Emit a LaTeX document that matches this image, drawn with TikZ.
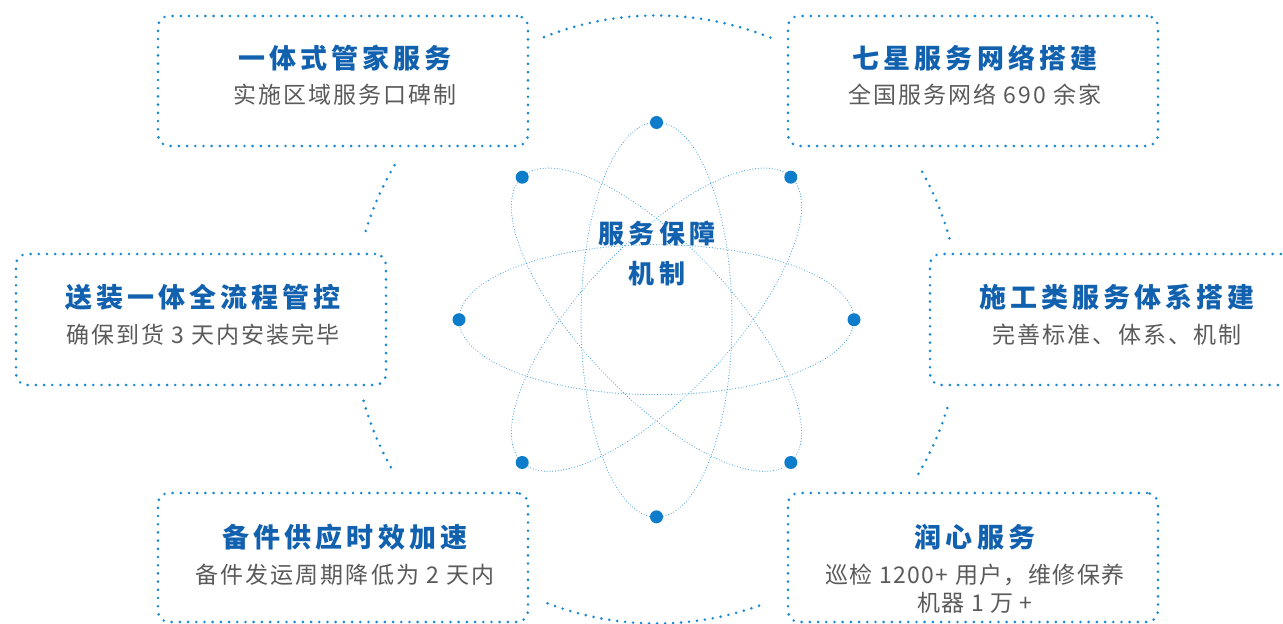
\documentclass[tikz,border=0pt]{standalone}
\usepackage{fontspec}
\newfontfamily\titlefont{Noto Sans CJK SC}[LetterSpace=15]
\newfontfamily\centerfont{Noto Sans CJK SC}[LetterSpace=16]
\newfontfamily\subfont{Noto Sans CJK SC}[LetterSpace=9]
\newfontfamily\subfonttight{Noto Sans CJK SC}[LetterSpace=6]
\definecolor{titleblue}{HTML}{1161AF}
\definecolor{dotblue}{HTML}{1688D4}
\definecolor{electronblue}{HTML}{0C7CCB}
\definecolor{orbitblue}{HTML}{3C9BDB}
\definecolor{subgray}{HTML}{5A5A5A}
\begin{document}
\begin{tikzpicture}[x=1pt,y=-1pt,
  boxst/.style={draw=dotblue, line width=2.9pt, dash pattern=on 0pt off 8.2pt, line cap=round, rounded corners=11pt, minimum width=370pt, inner sep=0pt},
  ring/.style={draw=dotblue, line width=2.9pt, dash pattern=on 0pt off 8pt, line cap=round},
  orbit/.style={draw=orbitblue, line width=1.1pt, dash pattern=on 0pt off 2.8pt, line cap=round},
  electron/.style={circle, fill=electronblue, minimum size=13pt, inner sep=0pt},
  ttl/.style={text=titleblue, font=\fontsize{27}{32}\titlefont\bfseries, inner sep=0pt},
  ctr/.style={text=titleblue, font=\fontsize{26}{40}\centerfont\bfseries, inner sep=0pt, align=center},
  sub/.style={text=subgray, font=\fontsize{23}{28}\subfont, inner sep=0pt, align=center},
]
\useasboundingbox (0,0) rectangle (1283,624);
\path[clip] (0,0) rectangle (1283,624);

% outer ring arcs
\begin{scope}[shift={(656.5,319.5)}, y=1pt]
  \draw[ring] (68:304) arc[start angle=68, end angle=112, radius=304];
  \draw[ring] (149.5:304) arc[start angle=149.5, end angle=164.5, radius=304];
  \draw[ring] (195.5:304) arc[start angle=195.5, end angle=210.5, radius=304];
  \draw[ring] (249:304) arc[start angle=249, end angle=291, radius=304];
  \draw[ring] (329.5:304) arc[start angle=329.5, end angle=344.5, radius=304];
  \draw[ring] (15.5:304) arc[start angle=15.5, end angle=30.5, radius=304];
\end{scope}

% orbits
\coordinate (core) at (656.5,319.7);
\draw[orbit] (core) ellipse [x radius=197.5, y radius=75];
\draw[orbit] (core) ellipse [x radius=75.5, y radius=197.5];
\draw[orbit, rotate around={46.7:(core)}] (core) ellipse [x radius=196, y radius=75];
\draw[orbit, rotate around={-46.7:(core)}] (core) ellipse [x radius=196, y radius=75];

% electrons
\node[electron] (e1) at (459,319.7) {};
\node[electron] (e2) at (854,319.7) {};
\node[electron] (e3) at (656.5,122.5) {};
\node[electron] (e4) at (656.5,516.8) {};
\node[electron] (e5) at (522.2,177.2) {};
\node[electron] (e6) at (790.8,177.2) {};
\node[electron] (e7) at (522.2,462.5) {};
\node[electron] (e8) at (790.8,462.5) {};

% center title
\node[ctr] (core title) at (657,253) {服务保障\\机制};

% boxes
\node[boxst, minimum height=130pt] (tl) at (343,81) {};
\node[boxst, minimum height=130pt] (tr) at (973,81) {};
\node[boxst, minimum height=131pt] (ml) at (201,319.5) {};
\node[boxst, minimum height=131pt] (mr) at (1115,319.5) {};
\node[boxst, minimum height=129pt] (bl) at (343,557.5) {};
\node[boxst, minimum height=129pt] (br) at (973,557.5) {};

% texts
\node[ttl] (tl title) at (345,58) {一体式管家服务};
\node[sub] (tl sub) at (345,95) {实施区域服务口碑制};
\node[ttl] (tr title) at (975,58) {七星服务网络搭建};
\node[sub] (tr sub) at (975,95) {全国服务网络 690 余家};
\node[ttl] (ml title) at (203,297) {送装一体全流程管控};
\node[sub] (ml sub) at (203,335) {确保到货 3 天内安装完毕};
\node[ttl] (mr title) at (1117,297) {施工类服务体系搭建};
\node[sub] (mr sub) at (1117,335) {完善标准、体系、机制};
\node[ttl] (bl title) at (345,537) {备件供应时效加速};
\node[sub] (bl sub) at (345,575) {备件发运周期降低为 2 天内};
\node[ttl] (br title) at (975,537) {润心服务};
\node[sub, font=\fontsize{23}{28}\subfonttight] (br sub) at (975,589) {巡检 1200+ 用户，维修保养\\机器 1 万 +};
\end{tikzpicture}
\end{document}
